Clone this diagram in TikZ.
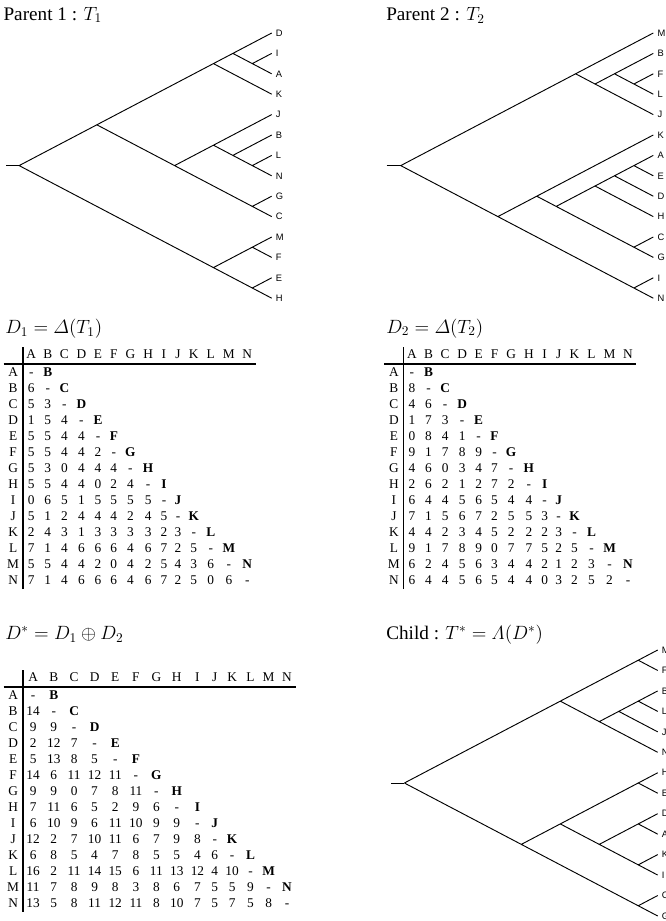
\documentclass[tikz,border=0pt]{standalone}
\usepackage{amsmath}
\usepackage[no-math]{fontspec}
\setmainfont{Liberation Serif}
\newfontfamily\leaffont{Liberation Sans}
\setlength{\arrayrulewidth}{1.2pt}
\setlength{\tabcolsep}{2.75pt}
\newcommand{\leafnode}[3]{%
  \coordinate (#1) at (\tx,{\ty+#3*\td});
  \node[leaf] (#1t) at ({\tx+4},{\ty+#3*\td}) {#2};}
\newcommand{\cladenode}[3]{%
  \coordinate (#1) at ({\tx-(#3-#2)*\td/(2*\sl)},{\ty+(#2+#3)*\td/2});}
\tikzset{
  br/.style={line width=0.7pt},
  leaf/.style={anchor=west, inner sep=0pt, font=\leaffont\fontsize{7}{8}\selectfont},
  ttl/.style={anchor=base west, inner sep=0pt, font=\fontsize{14.4}{17}\selectfont},
  tbl/.style={anchor=north west, inner sep=0pt, font=\fontsize{10}{12}\selectfont},
}
\begin{document}
\begin{tikzpicture}[x=0.75pt,y=-0.75pt]
\useasboundingbox (0,0) rectangle (666,921);
\def\sl{0.525}
% ---------- titles ----------
\node[ttl] (t1) at (3.3,20) {Parent 1 : $T_1$};
\node[ttl] (t2) at (386,20.5) {Parent 2 : $T_2$};
\node[ttl] (t3) at (5,333.5) {$D_1 = \varDelta(T_1)$};
\node[ttl] (t4) at (386,333) {$D_2 = \varDelta(T_2)$};
\node[ttl] (t5) at (5,639.3) {$D^* = D_1 \oplus D_2$};
\node[ttl] (t6) at (386,639) {Child : $T^* = \varLambda(D^*)$};
% ---------- tree 1 ----------
\def\tx{271.7}\def\ty{33}\def\td{20.4}
\leafnode{aD}{D}{0}\leafnode{aI}{I}{1}\leafnode{aA}{A}{2}\leafnode{aK}{K}{3}
\leafnode{aJ}{J}{4}\leafnode{aB}{B}{5}\leafnode{aL}{L}{6}\leafnode{aN}{N}{7}
\leafnode{aG}{G}{8}\leafnode{aC}{C}{9}\leafnode{aM}{M}{10}\leafnode{aF}{F}{11}
\leafnode{aE}{E}{12}\leafnode{aH}{H}{13}
\cladenode{ar}{0}{13}\cladenode{au1}{0}{9}\cladenode{au2}{0}{3}\cladenode{au3}{0}{2}
\cladenode{au4}{1}{2}\cladenode{au5}{4}{9}\cladenode{au6}{4}{7}\cladenode{au7}{5}{7}
\cladenode{au8}{6}{7}\cladenode{au9}{8}{9}\cladenode{au10}{10}{13}\cladenode{au11}{10}{11}
\cladenode{au12}{12}{13}
\coordinate (as) at (6,{\ty+6.5*\td});
\draw[br] (as) -- (ar);
\draw[br] (ar) -- (au1) (ar) -- (au10)
  (au1) -- (au2) (au1) -- (au5)
  (au2) -- (au3) (au2) -- (aK)
  (au3) -- (aD) (au3) -- (au4) (au4) -- (aI) (au4) -- (aA)
  (au5) -- (au6) (au5) -- (au9)
  (au6) -- (aJ) (au6) -- (au7) (au7) -- (aB) (au7) -- (au8)
  (au8) -- (aL) (au8) -- (aN) (au9) -- (aG) (au9) -- (aC)
  (au10) -- (au11) (au10) -- (au12) (au11) -- (aM) (au11) -- (aF)
  (au12) -- (aE) (au12) -- (aH);
% ---------- tree 2 ----------
\def\tx{653.3}\def\ty{33}\def\td{20.4}
\leafnode{bM}{M}{0}\leafnode{bB}{B}{1}\leafnode{bF}{F}{2}\leafnode{bL}{L}{3}
\leafnode{bJ}{J}{4}\leafnode{bK}{K}{5}\leafnode{bA}{A}{6}\leafnode{bE}{E}{7}
\leafnode{bD}{D}{8}\leafnode{bH}{H}{9}\leafnode{bC}{C}{10}\leafnode{bG}{G}{11}
\leafnode{bI}{I}{12}\leafnode{bN}{N}{13}
\cladenode{br}{0}{13}\cladenode{bv1}{0}{4}\cladenode{bv2}{1}{4}\cladenode{bv3}{1}{3}
\cladenode{bv4}{2}{3}\cladenode{bv5}{5}{13}\cladenode{bv6}{5}{11}\cladenode{bv7}{6}{11}
\cladenode{bv8}{6}{9}\cladenode{bv9}{6}{8}\cladenode{bv10}{6}{7}\cladenode{bv11}{10}{11}
\cladenode{bv12}{12}{13}
\coordinate (bs) at (386.7,{\ty+6.5*\td});
\draw[br] (bs) -- (br);
\draw[br] (br) -- (bv1) (br) -- (bv5)
  (bv1) -- (bM) (bv1) -- (bv2) (bv2) -- (bv3) (bv2) -- (bJ)
  (bv3) -- (bB) (bv3) -- (bv4) (bv4) -- (bF) (bv4) -- (bL)
  (bv5) -- (bv6) (bv5) -- (bv12) (bv6) -- (bK) (bv6) -- (bv7)
  (bv7) -- (bv8) (bv7) -- (bv11) (bv8) -- (bv9) (bv8) -- (bH)
  (bv9) -- (bv10) (bv9) -- (bD) (bv10) -- (bA) (bv10) -- (bE)
  (bv11) -- (bC) (bv11) -- (bG) (bv12) -- (bI) (bv12) -- (bN);
% ---------- child tree ----------
\def\tx{657.7}\def\ty{650}\def\td{20.46}
\leafnode{cM}{M}{0}\leafnode{cF}{F}{1}\leafnode{cB}{B}{2}\leafnode{cL}{L}{3}
\leafnode{cJ}{J}{4}\leafnode{cN}{N}{5}\leafnode{cH}{H}{6}\leafnode{cE}{E}{7}
\leafnode{cD}{D}{8}\leafnode{cA}{A}{9}\leafnode{cK}{K}{10}\leafnode{cI}{I}{11}
\leafnode{cC}{C}{12}\leafnode{cG}{G}{13}
\cladenode{cr}{0}{13}\cladenode{cw1}{0}{5}\cladenode{cw2}{0}{1}\cladenode{cw3}{2}{5}
\cladenode{cw4}{2}{4}\cladenode{cw5}{2}{3}\cladenode{cw6}{6}{13}\cladenode{cw7}{6}{11}
\cladenode{cw8}{6}{7}\cladenode{cw9}{8}{11}\cladenode{cw10}{8}{9}\cladenode{cw11}{10}{11}
\cladenode{cw12}{12}{13}
\coordinate (cs) at (391,{\ty+6.5*\td});
\draw[br] (cs) -- (cr);
\draw[br] (cr) -- (cw1) (cr) -- (cw6)
  (cw1) -- (cw2) (cw1) -- (cw3) (cw2) -- (cM) (cw2) -- (cF)
  (cw3) -- (cw4) (cw3) -- (cN) (cw4) -- (cw5) (cw4) -- (cJ)
  (cw5) -- (cB) (cw5) -- (cL)
  (cw6) -- (cw7) (cw6) -- (cw12) (cw7) -- (cw8) (cw7) -- (cw9)
  (cw8) -- (cH) (cw8) -- (cE) (cw9) -- (cw10) (cw9) -- (cw11)
  (cw10) -- (cD) (cw10) -- (cA) (cw11) -- (cK) (cw11) -- (cI)
  (cw12) -- (cC) (cw12) -- (cG);
% ---------- tables ----------
\node[tbl] (d1) at (3.3,347.2) {\begin{tabular}{c|cccccccccccccc}
 & A & B & C & D & E & F & G & H & I & J & K & L & M & N \\ \hline
A & - & \textbf{B} \\
B & 6 & - & \textbf{C} \\
C & 5 & 3 & - & \textbf{D} \\
D & 1 & 5 & 4 & - & \textbf{E} \\
E & 5 & 5 & 4 & 4 & - & \textbf{F} \\
F & 5 & 5 & 4 & 4 & 2 & - & \textbf{G} \\
G & 5 & 3 & 0 & 4 & 4 & 4 & - & \textbf{H} \\
H & 5 & 5 & 4 & 4 & 0 & 2 & 4 & - & \textbf{I} \\
I & 0 & 6 & 5 & 1 & 5 & 5 & 5 & 5 & - & \textbf{J} \\
J & 5 & 1 & 2 & 4 & 4 & 4 & 2 & 4 & 5 & - & \textbf{K} \\
K & 2 & 4 & 3 & 1 & 3 & 3 & 3 & 3 & 2 & 3 & - & \textbf{L} \\
L & 7 & 1 & 4 & 6 & 6 & 6 & 4 & 6 & 7 & 2 & 5 & - & \textbf{M} \\
M & 5 & 5 & 4 & 4 & 2 & 0 & 4 & 2 & 5 & 4 & 3 & 6 & - & \textbf{N} \\
N & 7 & 1 & 4 & 6 & 6 & 6 & 4 & 6 & 7 & 2 & 5 & 0 & 6 & - \\
\end{tabular}};
\node[tbl] (d2) at (384,347.2) {\begin{tabular}{c|cccccccccccccc}
 & A & B & C & D & E & F & G & H & I & J & K & L & M & N \\ \hline
A & - & \textbf{B} \\
B & 8 & - & \textbf{C} \\
C & 4 & 6 & - & \textbf{D} \\
D & 1 & 7 & 3 & - & \textbf{E} \\
E & 0 & 8 & 4 & 1 & - & \textbf{F} \\
F & 9 & 1 & 7 & 8 & 9 & - & \textbf{G} \\
G & 4 & 6 & 0 & 3 & 4 & 7 & - & \textbf{H} \\
H & 2 & 6 & 2 & 1 & 2 & 7 & 2 & - & \textbf{I} \\
I & 6 & 4 & 4 & 5 & 6 & 5 & 4 & 4 & - & \textbf{J} \\
J & 7 & 1 & 5 & 6 & 7 & 2 & 5 & 5 & 3 & - & \textbf{K} \\
K & 4 & 4 & 2 & 3 & 4 & 5 & 2 & 2 & 2 & 3 & - & \textbf{L} \\
L & 9 & 1 & 7 & 8 & 9 & 0 & 7 & 7 & 5 & 2 & 5 & - & \textbf{M} \\
M & 6 & 2 & 4 & 5 & 6 & 3 & 4 & 4 & 2 & 1 & 2 & 3 & - & \textbf{N} \\
N & 6 & 4 & 4 & 5 & 6 & 5 & 4 & 4 & 0 & 3 & 2 & 5 & 2 & - \\
\end{tabular}};
\node[tbl] (d3) at (3.3,670) {\begin{tabular}{c|cccccccccccccc}
 & A & B & C & D & E & F & G & H & I & J & K & L & M & N \\ \hline
A & - & \textbf{B} \\
B & 14 & - & \textbf{C} \\
C & 9 & 9 & - & \textbf{D} \\
D & 2 & 12 & 7 & - & \textbf{E} \\
E & 5 & 13 & 8 & 5 & - & \textbf{F} \\
F & 14 & 6 & 11 & 12 & 11 & - & \textbf{G} \\
G & 9 & 9 & 0 & 7 & 8 & 11 & - & \textbf{H} \\
H & 7 & 11 & 6 & 5 & 2 & 9 & 6 & - & \textbf{I} \\
I & 6 & 10 & 9 & 6 & 11 & 10 & 9 & 9 & - & \textbf{J} \\
J & 12 & 2 & 7 & 10 & 11 & 6 & 7 & 9 & 8 & - & \textbf{K} \\
K & 6 & 8 & 5 & 4 & 7 & 8 & 5 & 5 & 4 & 6 & - & \textbf{L} \\
L & 16 & 2 & 11 & 14 & 15 & 6 & 11 & 13 & 12 & 4 & 10 & - & \textbf{M} \\
M & 11 & 7 & 8 & 9 & 8 & 3 & 8 & 6 & 7 & 5 & 5 & 9 & - & \textbf{N} \\
N & 13 & 5 & 8 & 11 & 12 & 11 & 8 & 10 & 7 & 5 & 7 & 5 & 8 & - \\
\end{tabular}};
\end{tikzpicture}
\end{document}
